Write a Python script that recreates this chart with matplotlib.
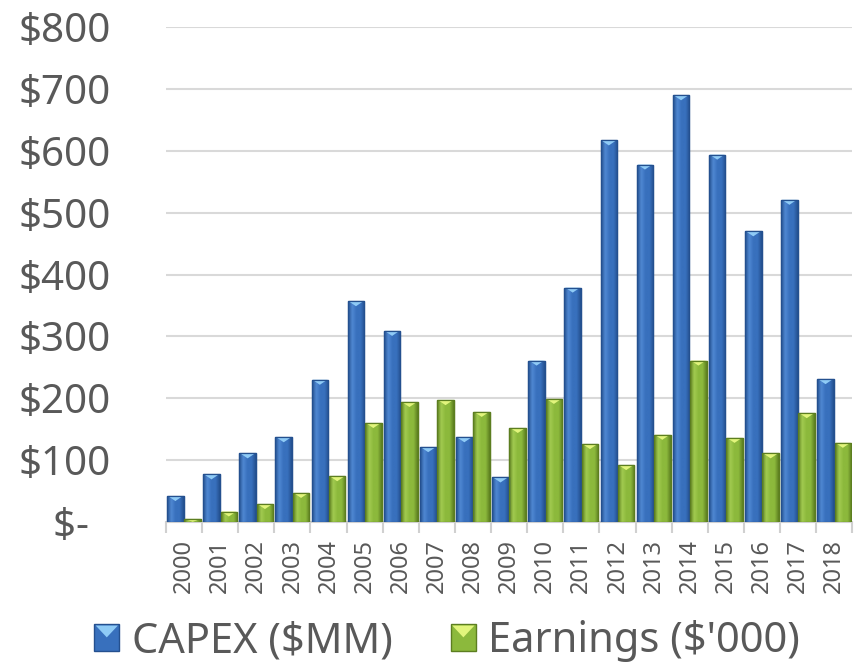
import matplotlib
matplotlib.use('Agg')
import matplotlib.pyplot as plt
import numpy as np
from matplotlib.patches import Polygon, Rectangle
from matplotlib.legend_handler import HandlerBase
from matplotlib.colors import LinearSegmentedColormap

years = [str(y) for y in range(2000, 2019)]
capex = [42, 77, 111, 137, 230, 357, 309, 121, 137, 72, 261, 379, 617, 578, 690, 594, 470, 521, 231]
earnings = [5, 17, 29, 47, 74, 160, 194, 197, 178, 152, 199, 126, 92, 141, 261, 136, 111, 176, 128]
y_ticks = [0, 100, 200, 300, 400, 500, 600, 700, 800]
y_labels = ['$-  ', '$100', '$200', '$300', '$400', '$500', '$600', '$700', '$800']
series_names = ['CAPEX ($MM)', "Earnings ($'000)"]

styles = [
    dict(face='#3870BD', dark='#24508F', light='#4F88D2', tri='#8FCBF6'),
    dict(face='#8CB93C', dark='#5C7E20', light='#A2CB50', tri='#E2F57C'),
]

text_color = '#595959'
plt.rcParams['font.family'] = ['Noto Sans', 'DejaVu Sans']

fig = plt.figure(figsize=(8.6, 6.65), dpi=100)
ax = fig.add_axes([0.193, 0.215, 0.798, 0.744])

n = len(years)
x = np.arange(n)
bw = 0.46
offsets = [-0.24, 0.24]
ax.set_xlim(-0.5, n - 0.5)
ax.set_ylim(0, 800)
ppu = ax.get_window_extent().height / 800.0  # pixels per data unit
tri_depth = 5.0 / ppu

for vals, off, st in zip([capex, earnings], offsets, styles):
    bars = ax.bar(x + off, vals, width=bw, color=st['face'], edgecolor=st['dark'],
                  linewidth=0.9, zorder=3)
    cmap = LinearSegmentedColormap.from_list('g', [st['dark'], st['light'], st['face'], st['face'], st['dark']])
    grad = np.linspace(0, 1, 64).reshape(1, -1)
    for b in bars:
        x0, w, h = b.get_x(), b.get_width(), b.get_height()
        if h <= 0:
            continue
        im = ax.imshow(grad, extent=[x0, x0 + w, 0, h], aspect='auto', cmap=cmap,
                       zorder=3.5, interpolation='bilinear')
        im.set_clip_path(b)
        d = min(tri_depth, h)
        tri = Polygon([[x0 + w * 0.06, h], [x0 + w * 0.94, h], [x0 + w / 2, h - d]],
                      closed=True, facecolor=st['tri'], edgecolor='none', zorder=4)
        ax.add_patch(tri)
        edge = Rectangle((x0, 0), w, h, facecolor='none', edgecolor=st['dark'],
                         linewidth=0.9, zorder=4.5)
        ax.add_patch(edge)

ax.set_xlim(-0.5, n - 0.5)
ax.set_ylim(0, 800)
ax.set_aspect('auto')

ax.set_yticks(y_ticks)
ax.set_yticklabels(y_labels)
ax.yaxis.grid(True, color='#D9D9D9', linewidth=1.5, zorder=0)
ax.set_axisbelow(True)
ax.tick_params(axis='y', length=0, pad=40, labelsize=29, labelcolor=text_color)

ax.set_xticks(x)
ax.set_xticklabels(years, rotation=90)
ax.set_xticks(np.arange(-0.5, n, 1.0), minor=True)
ax.tick_params(axis='x', which='major', length=0, pad=12, labelsize=17, labelcolor=text_color)
ax.tick_params(axis='x', which='minor', length=8, width=1.5, color='#D0D0D0')

for s in ['top', 'right', 'left']:
    ax.spines[s].set_visible(False)
ax.spines['bottom'].set_color('#D0D0D0')
ax.spines['bottom'].set_linewidth(1.5)


class BevelHandler(HandlerBase):
    def __init__(self, st):
        super().__init__()
        self.st = st

    def create_artists(self, legend, orig_handle, xdescent, ydescent, width, height, fontsize, trans):
        x0, y0 = -xdescent, -ydescent
        rect = Rectangle((x0, y0), width, height, facecolor=self.st['face'],
                         edgecolor=self.st['dark'], linewidth=1, transform=trans)
        tri = Polygon([[x0 + 1, y0 + height - 1], [x0 + width - 1, y0 + height - 1],
                       [x0 + width / 2, y0 + height * 0.5]], closed=True,
                      facecolor=self.st['tri'], edgecolor='none', transform=trans)
        return [rect, tri]


h1 = Rectangle((0, 0), 1, 1)
h2 = Rectangle((0, 0), 1, 1)
fig.legend([h1, h2], series_names, loc='center', bbox_to_anchor=(0.52, 0.036),
           ncol=2, frameon=False, fontsize=30, labelcolor=text_color,
           handlelength=0.6, handleheight=0.6, handletextpad=0.3, columnspacing=1.4,
           handler_map={h1: BevelHandler(styles[0]), h2: BevelHandler(styles[1])})

fig.savefig('out.png', dpi=100)
